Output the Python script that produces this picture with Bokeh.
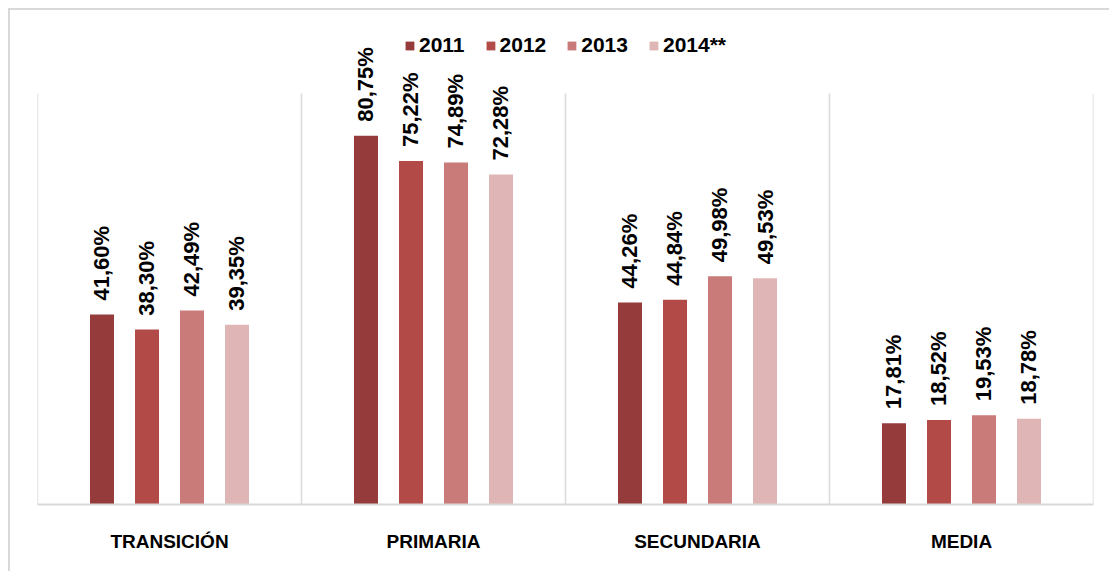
from bokeh.plotting import figure
from bokeh.models import ColumnDataSource, LabelSet, Legend, LegendItem, FixedTicker, Range1d
from bokeh.core.properties import value
from bokeh.embed import file_html
from bokeh.resources import INLINE
import math

categories = ["TRANSICIÓN", "PRIMARIA", "SECUNDARIA", "MEDIA"]
years = ["2011", "2012", "2013", "2014**"]
v2011 = [41.60, 80.75, 44.26, 17.81]
v2012 = [38.30, 75.22, 44.84, 18.52]
v2013 = [42.49, 74.89, 49.98, 19.53]
v2014 = [39.35, 72.28, 49.53, 18.78]
series = [v2011, v2012, v2013, v2014]
colors = ["#953b3b", "#b24a48", "#c97b7a", "#dfb5b5"]
axis_max = 90

FONT = "Liberation Sans"

p = figure(width=1101, height=563, output_backend="svg", toolbar_location=None,
           x_range=Range1d(0, len(categories)), y_range=Range1d(0, 106),
           min_border_left=27, min_border_right=18, min_border_top=10, min_border_bottom=69)
p.styles = {"margin-left": "8px", "margin-top": "8px",
            "border-top": "2px solid #d9d9d9", "border-left": "2px solid #d9d9d9"}
p.outline_line_color = None
p.xgrid.grid_line_color = None
p.ygrid.grid_line_color = None
p.yaxis.visible = False

# category separators
bounds = list(range(len(categories) + 1))
p.segment(x0=bounds, y0=[0] * len(bounds), x1=bounds, y1=[axis_max] * len(bounds),
          line_color="#d9d9d9", line_width=1.5)

offsets = [-0.2557, -0.0852, 0.0852, 0.2557]
bar_w = 0.0909
items = []
for k, (yr, vals, col) in enumerate(zip(years, series, colors)):
    xs = [i + 0.5 + offsets[k] for i in range(len(categories))]
    labels = [f"{v:.2f}".replace(".", ",") + "%" for v in vals]
    src = ColumnDataSource(dict(x=xs, top=vals, label=labels))
    r = p.vbar(x="x", top="top", width=bar_w, bottom=0, source=src,
               fill_color=col, line_color=None)
    items.append(LegendItem(label=yr, renderers=[r]))
    ls = LabelSet(x="x", y="top", text="label", source=src, angle=math.pi / 2,
                  text_align="left", text_baseline="middle", y_offset=14,
                  text_font=value(FONT), text_font_style="bold", text_font_size="22px",
                  text_color="black")
    p.add_layout(ls)

legend = Legend(items=items, orientation="horizontal", location="top_center",
                glyph_width=11, glyph_height=11, label_standoff=4, spacing=20,
                label_text_font=FONT, label_text_font_style="bold",
                label_text_font_size="21px", label_text_color="black",
                border_line_color=None, background_fill_alpha=0, margin=13, padding=2)
p.add_layout(legend)

p.xaxis.ticker = FixedTicker(ticks=[i + 0.5 for i in range(len(categories))])
p.xaxis.major_label_overrides = {i + 0.5: c for i, c in enumerate(categories)}
p.xaxis.axis_line_color = "#d9d9d9"
p.xaxis.axis_line_width = 2
p.xaxis.major_tick_line_color = None
p.xaxis.minor_tick_line_color = None
p.xaxis.major_label_standoff = 20
p.xaxis.major_label_text_font = FONT
p.xaxis.major_label_text_font_style = "bold"
p.xaxis.major_label_text_font_size = "19px"
p.xaxis.major_label_text_color = "black"

open("out.html", "w").write(file_html(p, INLINE))
